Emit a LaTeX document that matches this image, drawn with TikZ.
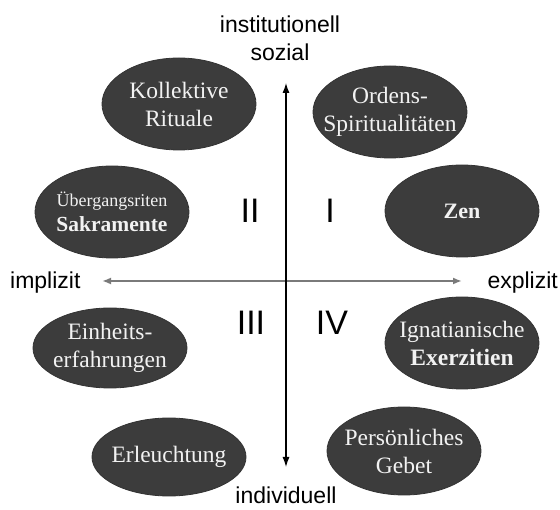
\documentclass[tikz,border=0pt]{standalone}
\usepackage{fontspec}
\setmainfont{Liberation Serif}
\newfontfamily\axisfont{Liberation Sans}
\usepackage{xcolor}
\usepackage{tikz}
\usetikzlibrary{shapes.geometric,arrows.meta,positioning}
\definecolor{ovalgray}{HTML}{3C3C3C}
\definecolor{ovaltext}{HTML}{F2F2F2}
\definecolor{axisgray}{HTML}{7A7A7A}

\begin{document}
\begin{tikzpicture}[x=1pt,y=-1pt,
	oval/.style={ellipse,fill=ovalgray,draw=black!80,line width=0.8pt,minimum width=154pt,minimum height=92pt,inner sep=0pt},
	ovaltxt/.style={text=ovaltext,align=center,font=\fontsize{23.5}{28}\selectfont},
	axislabel/.style={font=\axisfont\fontsize{23}{28}\selectfont,align=center},
	quadrant/.style={font=\axisfont\fontsize{34}{34}\selectfont}]
	\useasboundingbox (0,0) rectangle (560,510);
	% Achsen
	\coordinate (top) at (286,83);
	\coordinate (bottom) at (286,467);
	\coordinate (left) at (102,281);
	\coordinate (right) at (462,281);
	\draw [{Latex[length=9pt,width=7pt]}-{Latex[length=9pt,width=7pt]},axisgray,line width=2pt](left) -- (right);
	\draw [{Latex[length=10pt,width=7pt]}-{Latex[length=10pt,width=7pt]},line width=1.2pt](bottom) -- (top);
	\node[axislabel] (sozial) at (280,38) {institutionell\\sozial};
	\node[axislabel] (indiv) at (286,495) {individuell};
	\node[axislabel,anchor=base east] (impl) at (84,289) {implizit};
	\node[axislabel,anchor=base west] (expl) at (484,289) {explizit};
	% Quadranten
	\node[quadrant] (q1) at (330,211) {I};
	\node[quadrant] (q2) at (250,211) {II};
	\node[quadrant] (q3) at (251,323) {III};
	\node[quadrant] (q4) at (332,323) {IV};
	% Ellipsen
	\node[oval] (kollektiv) at (179,104) {};
	\node[ovaltxt] (kollektiv-t) at (kollektiv) {Kollektive\\Rituale};
	\node[oval] (orden) at (390,112) {};
	\node[ovaltxt] (orden-t) at (orden) {Ordens-\\Spiritualitäten};
	\node[oval] (uebergang) at (112,212) {};
	\node[ovaltxt] (uebergang-t) at (uebergang) {{\fontsize{18}{20}\selectfont Übergangsriten}\\[-3pt]{\fontsize{21.5}{24}\selectfont\textbf{Sakramente}}};
	\node[oval] (zen) at (462,211) {};
	\node[ovaltxt] (zen-t) at (zen) {\fontsize{22}{24}\selectfont\textbf{Zen}};
	\node[oval,minimum height=80pt] (einheit) at (110,348) {};
	\node[ovaltxt] (einheit-t) at (einheit) {Einheits-\\erfahrungen};
	\node[oval] (ignatius) at (462,343) {};
	\node[ovaltxt] (ignatius-t) at (ignatius) {Ignatianische\\\textbf{Exerzitien}};
	\node[oval,minimum height=78pt] (erleucht) at (169,457) {};
	\node[ovaltxt] (erleucht-t) at (erleucht) {Erleuchtung};
	\node[oval,minimum height=88pt] (gebet) at (404,451) {};
	\node[ovaltxt] (gebet-t) at (gebet) {Persönliches\\Gebet};
\end{tikzpicture}
\end{document}
